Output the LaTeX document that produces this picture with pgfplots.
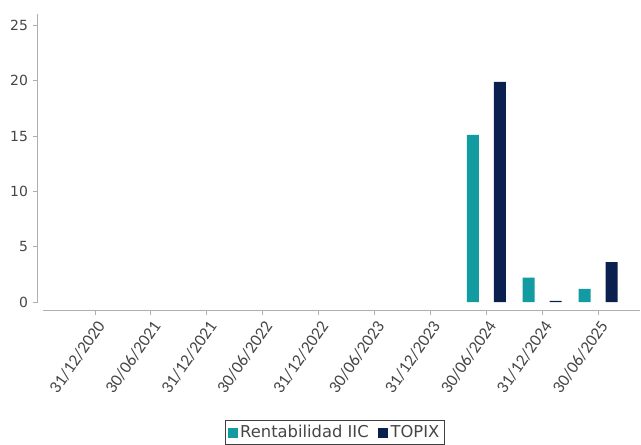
\documentclass[border=0pt]{standalone}
\usepackage{pgfplots}
\pgfplotsset{compat=1.18}
\usepackage{fontspec}
\setmainfont{DejaVu Sans}
\newfontfamily\carlito{Carlito}
\definecolor{teal1}{RGB}{18,155,160}
\definecolor{navy1}{RGB}{10,32,78}
\definecolor{axgray}{RGB}{175,175,175}
\definecolor{txt}{RGB}{70,70,70}
\begin{document}
\begin{tikzpicture}
\begin{axis}[
  scale only axis, width=451.5bp, height=221.7bp,
  xmin=-1.02, xmax=9.75, ymin=-0.72, ymax=26,
  axis line style={draw=none},
  ybar=11.25bp, bar width=9bp,
  xtick={0,...,9},
  xticklabels={31/12/2020,30/06/2021,31/12/2021,30/06/2022,31/12/2022,30/06/2023,31/12/2023,30/06/2024,31/12/2024,30/06/2025},
  ytick={0,5,10,15,20,25},
  tick align=outside, tick pos=left,
  major tick length=4bp,
  tick style={axgray, line width=0.75bp},
  xticklabel style={font=\carlito\fontsize{13}{14}\selectfont, rotate=55, anchor=north east, text=txt, inner sep=2bp},
  yticklabel style={font=\fontsize{10.5}{12}\selectfont, text=txt},
  /pgf/number format/assume math mode=true,
  legend columns=2,
  legend style={at={(0.493,-0.415)}, anchor=center, draw=black!75, line width=0.75bp,
    font=\fontsize{12.3}{13}\selectfont, text=txt, inner sep=1.5bp,
    /tikz/every even column/.append style={column sep=5bp}},
  legend image code/.code={\fill[#1] (0bp,-3.75bp) rectangle (7.5bp,3.75bp);},
  clip=false,
]
\addplot[fill=teal1, draw=none] coordinates {(7,15.1) (8,2.2) (9,1.2)};
\addlegendentry{Rentabilidad IIC}
\addplot[fill=navy1, draw=none] coordinates {(7,19.9) (8,0.1) (9,3.6)};
\addlegendentry{TOPIX}
\draw[axgray, line width=0.75bp] (axis cs:-0.93,-0.72) -- (axis cs:9.75,-0.72);
\draw[axgray, line width=0.75bp] (axis cs:-1.02,-0.1) -- (axis cs:-1.02,26);
\coordinate (SW) at (rel axis cs:0,0);
\coordinate (NE) at (rel axis cs:1,1);
\end{axis}
\pgfresetboundingbox
\path[use as bounding box] ([shift={(-28.5bp,-101.25bp)}]SW) rectangle ([shift={(0.75bp,10.8bp)}]NE);
\end{tikzpicture}
\end{document}
